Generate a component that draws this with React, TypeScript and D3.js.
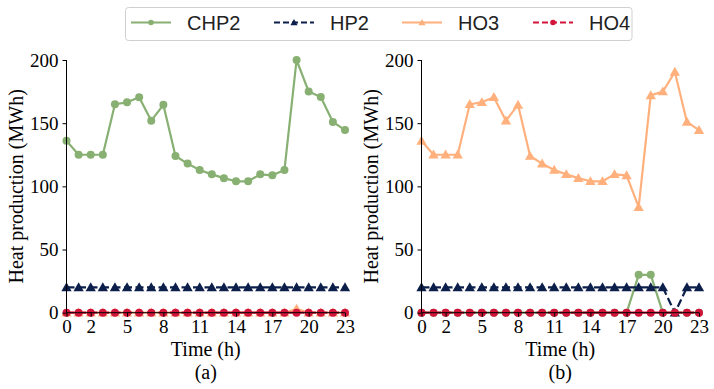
import React, { useRef, useEffect } from "react";
import * as d3 from "d3";

const hours = d3.range(24);
const xTicks = [0, 2, 5, 8, 11, 14, 17, 20, 23];
const yTicks = [0, 50, 100, 150, 200];

// panel (a)
const chp2A = [136, 125, 125, 125, 165, 166.5, 170.5, 152, 164.5, 124, 118, 113, 109.5, 106.5, 104, 104, 109.5, 108.7, 113, 200, 175, 170.7, 151, 144.5];
const hp2A = [20, 20, 20, 20, 20, 20, 20, 20, 20, 20, 20, 20, 20, 20, 20, 20, 20, 20, 20, 20, 20, 20, 20, 20];
const ho3A = [0, 0, 0, 0, 0, 0, 0, 0, 0, 0, 0, 0, 0, 0, 0, 0, 0, 0, 0, 3, 0, 0, 0, 0];
const ho4A = [0, 0, 0, 0, 0, 0, 0, 0, 0, 0, 0, 0, 0, 0, 0, 0, 0, 0, 0, 0, 0, 0, 0, 0];

// panel (b)
const chp2B = [0, 0, 0, 0, 0, 0, 0, 0, 0, 0, 0, 0, 0, 0, 0, 0, 0, 0, 30, 30, 0, 0, 0, 0];
const hp2B = [20, 20, 20, 20, 20, 20, 20, 20, 20, 20, 20, 20, 20, 20, 20, 20, 20, 20, 20, 20, 20, 0, 20, 20];
const ho3B = [136, 125, 125, 125, 165, 166.5, 170.5, 152, 164.5, 124, 118, 113, 109.5, 106.5, 104, 104, 109.5, 108.7, 83.5, 172, 175, 190.5, 151, 144.5];
const ho4B = [0, 0, 0, 0, 0, 0, 0, 0, 0, 0, 0, 0, 0, 0, 0, 0, 0, 0, 0, 0, 0, 0, 0, 0];

const seriesNames = ["CHP2", "HP2", "HO3", "HO4"];
const colors = ["#88b073", "#0c1f4b", "#ffb07c", "#d2143a"];
const dashes = [null, "8,3.5", null, "8,3.5"];
const markers = ["circle", "triangle", "triangle", "circle"];

const panels = [
  { label: "(a)", left: 66.5, right: 345, data: [chp2A, hp2A, ho3A, ho4A] },
  { label: "(b)", left: 421.5, right: 699, data: [chp2B, hp2B, ho3B, ho4B] },
];

const W = 714;
const H = 389;
const top = 60;
const bottom = 312.7;
const serif = "'Liberation Serif', 'Times New Roman', serif";
const sans = "'Liberation Sans', Arial, sans-serif";

export default function App() {
  const svgRef = useRef<SVGSVGElement>(null);

  useEffect(() => {
    document.body.style.margin = "0";
    const svg = d3.select(svgRef.current);
    svg.selectAll("*").remove();
    svg.append("rect").attr("width", W).attr("height", H).attr("fill", "#fff");

    const y = d3.scaleLinear().domain([0, 200]).range([bottom, top]);

    // scale 1 = plot markers, smaller for the legend
    const drawMarker = (g, kind, cx, cy, color, s = 1) => {
      if (kind === "circle") {
        g.append("circle").attr("cx", cx).attr("cy", cy).attr("r", 4 * s).attr("fill", color);
      } else {
        g.append("path")
          .attr("d", d3.symbol().type(d3.symbolTriangle).size(46 * s * s)())
          .attr("transform", `translate(${cx},${cy + 0.8 * s})`)
          .attr("fill", color);
      }
    };

    panels.forEach((p) => {
      const x = d3.scaleLinear().domain([0, 23]).range([p.left, p.right]);
      const g = svg.append("g");

      // series
      p.data.forEach((vals, si) => {
        const line = d3.line<number>().x((_, i) => x(hours[i])).y((d) => y(d));
        g.append("path")
          .datum(vals)
          .attr("d", line)
          .attr("fill", "none")
          .attr("stroke", colors[si])
          .attr("stroke-width", 2.2)
          .attr("stroke-dasharray", dashes[si])
          .attr("stroke-linejoin", "round");
        vals.forEach((v, i) => drawMarker(g, markers[si], x(hours[i]), y(v), colors[si]));
      });

      // axes
      const xAxis = g.append("g")
        .attr("transform", `translate(0,${bottom})`)
        .call(d3.axisBottom(x).tickValues(xTicks).tickSize(4).tickPadding(3));
      const yAxis = g.append("g")
        .attr("transform", `translate(${p.left},0)`)
        .call(d3.axisLeft(y).tickValues(yTicks).tickSize(4).tickPadding(4));
      [xAxis, yAxis].forEach((a) => {
        a.selectAll("path").attr("stroke", "#000").attr("stroke-width", 1);
        a.selectAll("line").attr("stroke", "#000");
        a.selectAll("text").attr("font-family", serif).attr("font-size", 19).attr("fill", "#000");
      });
      xAxis.select(".domain").attr("d", `M${p.left},0H${p.right}`);
      yAxis.select(".domain").attr("d", `M0,${bottom}V${top}`);

      const cx = (p.left + p.right) / 2;
      g.append("text")
        .attr("x", cx).attr("y", 356)
        .attr("text-anchor", "middle")
        .attr("font-family", serif).attr("font-size", 20)
        .text("Time (h)");
      g.append("text")
        .attr("x", cx).attr("y", 379)
        .attr("text-anchor", "middle")
        .attr("font-family", serif).attr("font-size", 20)
        .text(p.label);
      g.append("text")
        .attr("transform", `translate(${p.left - 44},${(top + bottom) / 2}) rotate(-90)`)
        .attr("text-anchor", "middle")
        .attr("font-family", serif).attr("font-size", 20)
        .text("Heat production (MWh)");
    });

    // legend
    const lg = svg.append("g");
    lg.append("rect")
      .attr("x", 125.5).attr("y", 7.5).attr("width", 506.5).attr("height", 33)
      .attr("rx", 3).attr("fill", "#fff").attr("stroke", "#d0d0d0");
    const itemX = [131, 274, 402, 533];
    seriesNames.forEach((name, i) => {
      const lx = itemX[i];
      lg.append("line")
        .attr("x1", lx).attr("x2", lx + 40).attr("y1", 22.5).attr("y2", 22.5)
        .attr("stroke", colors[i]).attr("stroke-width", 2)
        .attr("stroke-dasharray", dashes[i] ? "6,3" : null);
      drawMarker(lg, markers[i], lx + 20, 22.5, colors[i], 0.7);
      lg.append("text")
        .attr("x", lx + 56).attr("y", 29.5)
        .attr("font-family", sans).attr("font-size", 20).attr("fill", "#222")
        .text(name);
    });
  }, []);

  return <svg ref={svgRef} width={W} height={H} style={{ display: "block" }} />;
}
